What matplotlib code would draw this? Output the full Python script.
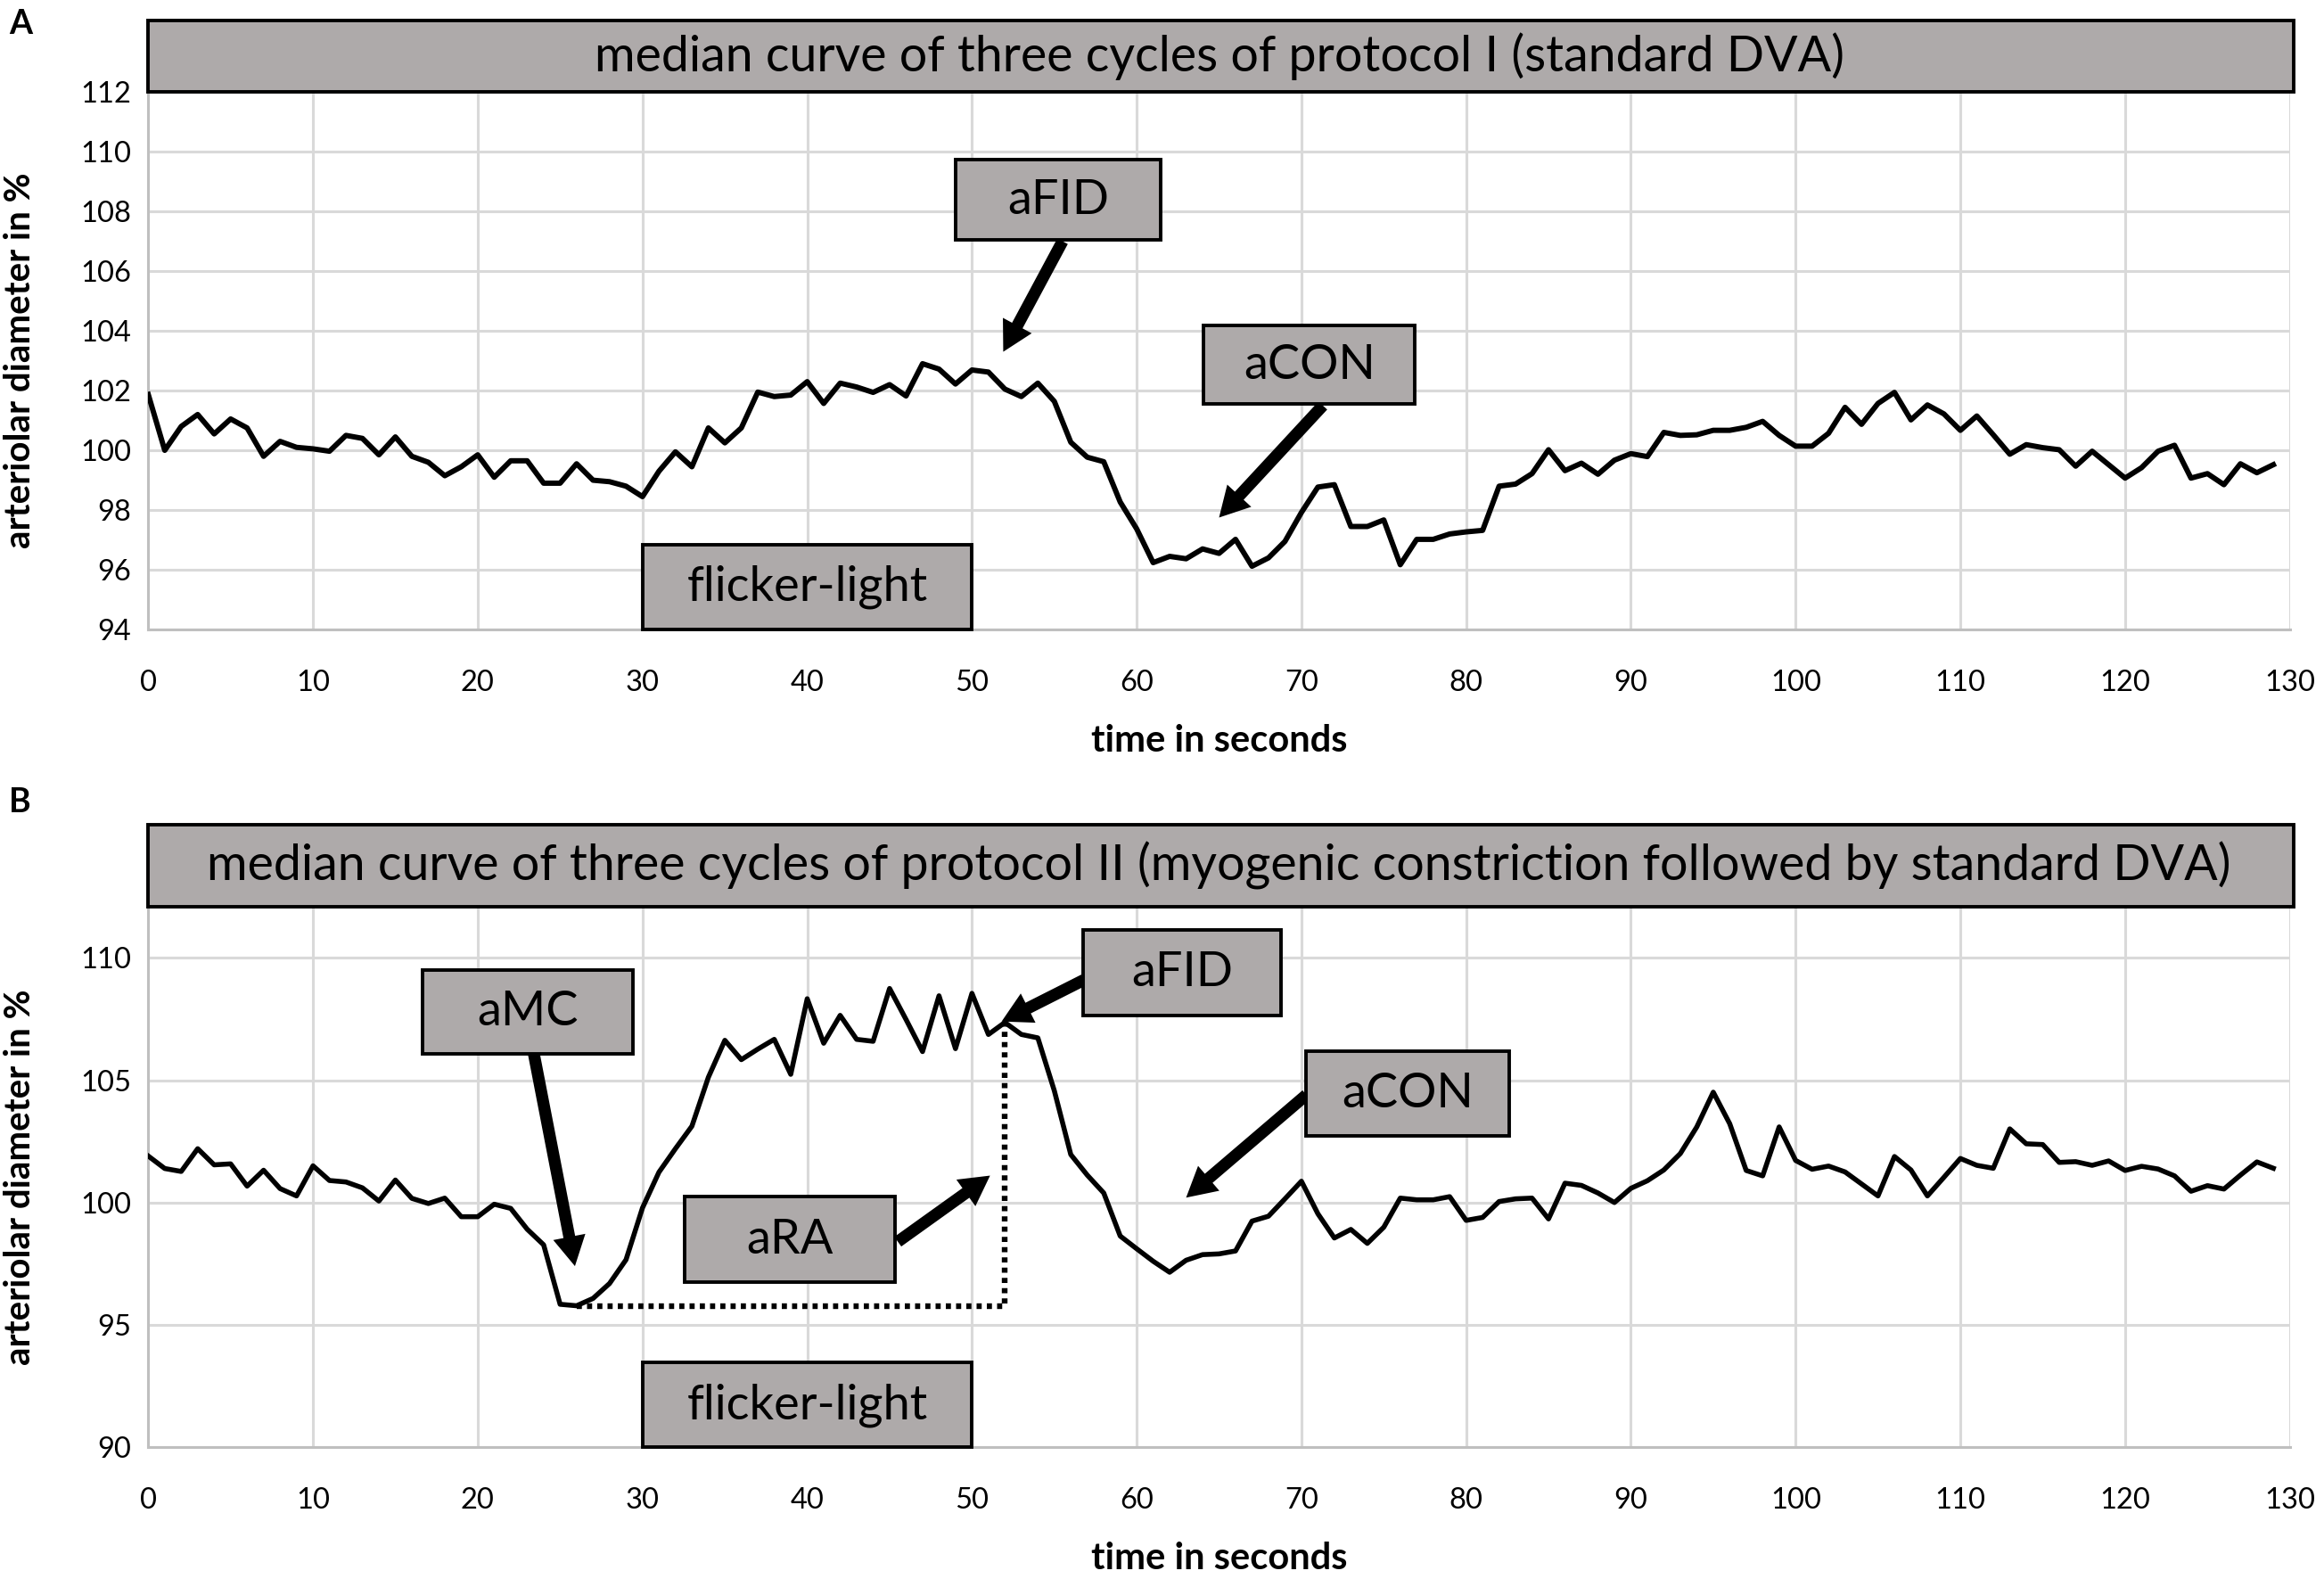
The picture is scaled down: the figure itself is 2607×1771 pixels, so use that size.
import matplotlib
matplotlib.use("Agg")
import matplotlib.pyplot as plt
from matplotlib.patches import Rectangle
import numpy as np

plt.rcParams["font.family"] = ["Lato", "DejaVu Sans"]

# time axis in seconds (one sample per second)
time_s = np.arange(130)

# protocol I: median arteriolar diameter in %
diam_a = [
    101.87, 100.00, 100.80, 101.20, 100.55, 101.05, 100.75, 99.80, 100.30, 100.10,
    100.05, 99.97, 100.50, 100.40, 99.85, 100.45, 99.80, 99.60, 99.15, 99.45,
    99.85, 99.10, 99.65, 99.65, 98.90, 98.90, 99.55, 99.00, 98.95, 98.80,
    98.45, 99.30, 99.95, 99.45, 100.75, 100.25, 100.75, 101.95, 101.80, 101.85,
    102.30, 101.57, 102.25, 102.12, 101.94, 102.20, 101.82, 102.90, 102.72, 102.22,
    102.69, 102.62, 102.05, 101.80, 102.25, 101.64, 100.27, 99.77, 99.62, 98.27,
    97.37, 96.24, 96.45, 96.37, 96.70, 96.55, 97.02, 96.12, 96.40, 96.95,
    97.92, 98.77, 98.85, 97.45, 97.45, 97.67, 96.17, 97.02, 97.02, 97.20,
    97.27, 97.32, 98.80, 98.87, 99.22, 100.02, 99.32, 99.57, 99.20, 99.67,
    99.89, 99.79, 100.60, 100.50, 100.52, 100.67, 100.67, 100.77, 100.97, 100.50,
    100.14, 100.14, 100.57, 101.44, 100.87, 101.57, 101.94, 101.02, 101.52, 101.22,
    100.67, 101.15, 100.52, 99.87, 100.19, 100.09, 100.02, 99.47, 99.97, 99.52,
    99.07, 99.42, 99.97, 100.17, 99.07, 99.22, 98.85, 99.55, 99.25, 99.52,
]

# protocol II: median arteriolar diameter in %
diam_b = [
    101.90, 101.39, 101.27, 102.20, 101.54, 101.58, 100.67, 101.32, 100.57, 100.27,
    101.50, 100.90, 100.84, 100.60, 100.06, 100.92, 100.17, 99.96, 100.18, 99.42,
    99.42, 99.93, 99.76, 98.91, 98.27, 95.84, 95.78, 96.08, 96.69, 97.66,
    99.78, 101.24, 102.20, 103.12, 105.12, 106.63, 105.84, 106.27, 106.67, 105.24,
    108.33, 106.51, 107.65, 106.67, 106.59, 108.75, 107.48, 106.17, 108.45, 106.29,
    108.55, 106.87, 107.36, 106.87, 106.73, 104.57, 101.96, 101.12, 100.39, 98.63,
    98.11, 97.60, 97.15, 97.64, 97.87, 97.90, 98.02, 99.24, 99.44, 100.15,
    100.87, 99.54, 98.55, 98.90, 98.33, 98.99, 100.18, 100.11, 100.11, 100.24,
    99.27, 99.39, 100.04, 100.15, 100.18, 99.33, 100.79, 100.70, 100.39, 100.00,
    100.58, 100.89, 101.33, 102.00, 103.09, 104.51, 103.22, 101.31, 101.09, 103.09,
    101.72, 101.36, 101.49, 101.25, 100.76, 100.27, 101.88, 101.33, 100.27, 101.03,
    101.80, 101.52, 101.40, 103.01, 102.40, 102.37, 101.64, 101.67, 101.52, 101.70,
    101.31, 101.48, 101.37, 101.09, 100.46, 100.69, 100.55, 101.12, 101.66, 101.40,
]

titles = [
    "median curve of three cycles of protocol I (standard DVA)",
    "median curve of three cycles of protocol II (myogenic constriction followed by standard DVA)",
]
x_ticks = list(range(0, 131, 10))
y_ticks_a = list(range(94, 113, 2))
y_ticks_b = list(range(90, 111, 5))

# flicker-light stimulation period
flicker_start, flicker_end = 30, 50
# aRA markers in protocol II: myogenic minimum and flicker peak
t_min_b, t_peak_b = 26, 52

BOX_FC = "#AEAAAA"
GRID = "#D9D9D9"
AXIS = "#BFBFBF"


def label_box(ax, x0, x1, y0, y1, text, size=39):
    ax.add_patch(Rectangle((x0, y0), x1 - x0, y1 - y0, facecolor=BOX_FC,
                           edgecolor="black", lw=2.8, zorder=5, clip_on=False))
    ax.text((x0 + x1) / 2, (y0 + y1) / 2, text, ha="center", va="center",
            fontsize=size, zorder=6, clip_on=False)


def arrow(ax, tail, head):
    ax.annotate("", xy=head, xytext=tail, zorder=4, annotation_clip=False,
                arrowprops=dict(arrowstyle="simple,head_length=0.6,head_width=0.66,tail_width=0.24",
                                mutation_scale=40, color="black", lw=0,
                                shrinkA=0, shrinkB=0))


def setup(ax, ylim, yticks, title, box_h):
    ax.set_xlim(0, 130)
    ax.set_ylim(*ylim)
    ax.set_xticks(x_ticks)
    ax.set_yticks(yticks)
    ax.grid(True, color=GRID, lw=2.2)
    ax.set_axisbelow(True)
    for side in ("top", "right"):
        ax.spines[side].set_visible(False)
    for side in ("left", "bottom"):
        ax.spines[side].set_color(AXIS)
        ax.spines[side].set_linewidth(2.2)
    ax.tick_params(length=0, labelsize=23.5)
    ax.tick_params(axis="x", pad=32)
    ax.tick_params(axis="y", pad=14)
    ax.set_xlabel("time in seconds", fontsize=30, fontweight="bold")
    ax.xaxis.set_label_coords(0.5, -0.175)
    ax.set_ylabel("arteriolar diameter in %", fontsize=29, fontweight="bold")
    ax.yaxis.set_label_coords(-0.052, 0.5)
    # title box sitting on top of the plot area
    ax.add_patch(Rectangle((0, 1.0), 1.002, box_h, transform=ax.transAxes,
                           facecolor=BOX_FC, edgecolor="black", lw=2.8,
                           clip_on=False, zorder=5))
    ax.text(0.5, 1.0 + box_h / 2, title, transform=ax.transAxes, ha="center",
            va="center", fontsize=40, zorder=6)


fig = plt.figure(figsize=(26.07, 17.71), dpi=100)

# ---- panel A ----
ax_a = fig.add_axes([0.0638, 0.6013, 0.9215, 0.3405])
setup(ax_a, (94, 112), y_ticks_a, titles[0], 0.132)
ax_a.plot(time_s, diam_a, color="black", lw=4.3, zorder=3)
label_box(ax_a, flicker_start, flicker_end, 94, 96.83, "flicker-light")
label_box(ax_a, 49.0, 61.45, 107.04, 109.72, "aFID")
arrow(ax_a, (55.5, 107.0), (51.9, 103.3))
label_box(ax_a, 64.06, 76.9, 101.54, 104.17, "aCON")
arrow(ax_a, (71.3, 101.5), (65.0, 97.75))

# ---- panel B ----
ax_b = fig.add_axes([0.0638, 0.0835, 0.9215, 0.3424])
setup(ax_b, (90, 112.1), y_ticks_b, titles[1], 0.151)
ax_b.plot(time_s, diam_b, color="black", lw=4.0, zorder=3)
# dotted aRA bracket
ax_b.plot([t_min_b, t_peak_b, t_peak_b],
          [diam_b[t_min_b], diam_b[t_min_b], diam_b[t_peak_b]],
          color="black", lw=4.6, ls=(0, (0.9, 0.9)), zorder=3)
label_box(ax_b, flicker_start, flicker_end, 90, 93.45, "flicker-light")
label_box(ax_b, 16.64, 29.42, 106.06, 109.52, "aMC")
arrow(ax_b, (23.4, 106.1), (25.9, 97.4))
label_box(ax_b, 56.77, 68.74, 107.64, 111.15, "aFID")
arrow(ax_b, (56.8, 109.1), (51.8, 107.4))
label_box(ax_b, 70.27, 82.59, 102.73, 106.18, "aCON")
arrow(ax_b, (70.3, 104.4), (63.0, 100.2))
label_box(ax_b, 32.57, 45.34, 96.73, 100.24, "aRA")
arrow(ax_b, (45.5, 98.4), (51.1, 101.1))

fig.text(0.004, 0.985, "A", fontsize=27, fontweight="bold", ha="left", va="center")
fig.text(0.004, 0.492, "B", fontsize=27, fontweight="bold", ha="left", va="center")

fig.savefig("out.png", dpi=100)
